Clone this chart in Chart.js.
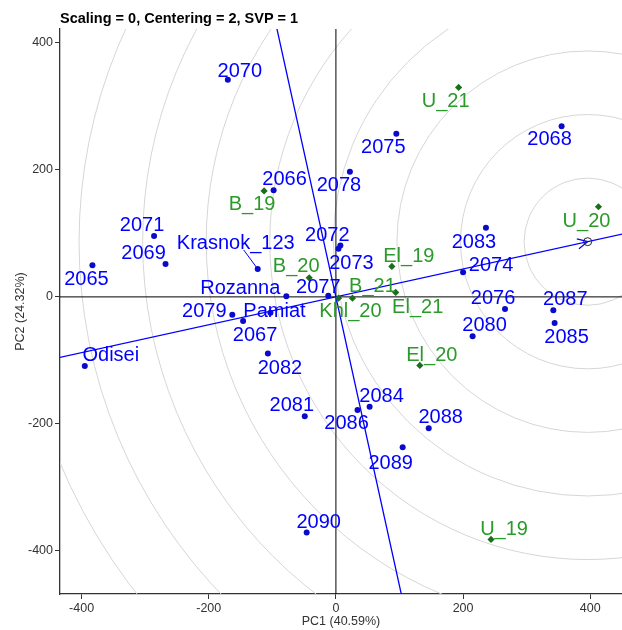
<!DOCTYPE html>
<html>
<head>
<meta charset="utf-8">
<script src="https://cdn.jsdelivr.net/npm/chart.js@4/dist/chart.umd.min.js"></script>
<style>
  html, body { margin: 0; padding: 0; background: #ffffff; }
  #wrap { width: 622px; height: 630px; position: relative; }
</style>
</head>
<body>
<div id="wrap"><canvas id="biplot"></canvas></div>
<script>
// ---- GGE biplot data (PC1 / PC2 scores) ----
const titleText = 'Scaling = 0, Centering = 2, SVP = 1';
const xTitle = 'PC1 (40.59%)';
const yTitle = 'PC2 (24.32%)';

const genotypeNames = ['2065', '2066', '2067', '2068', '2069', '2070', '2071', '2072', '2073', '2074',
  '2075', '2076', '2077', '2078', '2079', '2080', '2081', '2082', '2083', '2084',
  '2085', '2086', '2087', '2088', '2089', '2090', 'Krasnok_123', 'Odisei', 'Pamiat', 'Rozanna'];
const genotypePC1 = [-383, -98, -146, 355, -268, -170, -286, 7, 4, 200,
  95, 266, -12, 22, -163, 215, -49, -107, 236, 53,
  344, 34, 342, 146, 105, -46, -123, -395, -103, -78];
const genotypePC2 = [50, 168, -38, 269, 52, 342, 96, 81, 76, 39,
  257, -19, 2, 197, -28, -62, -188, -89, 109, -173,
  -41, -178, -21, -207, -237, -371, 44, -109, -25, 1];

const envNames = ['B_19', 'B_20', 'B_21', 'El_19', 'El_20', 'El_21', 'Khl_20', 'U_19', 'U_20', 'U_21'];
const envPC1 = [-113, -42, 26, 88, 132, 94, 4, 244, 413, 193];
const envPC2 = [167, 30, -2, 48, -108, 7, -2, -382, 142, 330];

// average-environment coordinate (tip of the AEA arrow) and ranking rings
const averageEnv = [396, 87];
const ringRadii = [100, 200, 300, 400, 500, 600, 700, 800, 900];

const xTicks = [-400, -200, 0, 200, 400];
const yTicks = [-400, -200, 0, 200, 400];
const xRange = [-434, 450];
const yRange = [-468, 422];

// label placement relative to each marker, in pixels [dx, dy] of the text centre
const labelOffset = {
  '2065': [-6, 13], '2066': [11, -12], '2067': [12, 13], '2068': [-12, 12], '2069': [-22, -12],
  '2070': [12, -10], '2071': [-12, -12], '2072': [-13, -12], '2073': [13, 13], '2074': [28, -8],
  '2075': [-13, 12], '2076': [-12, -12], '2077': [-10, -10], '2078': [-11, 12], '2079': [-28, -5],
  '2080': [12, -12], '2081': [-13, -12], '2082': [12, 13], '2083': [-12, 13], '2084': [12, -12],
  '2085': [12, 13], '2086': [-11, 12], '2087': [12, -12], '2088': [12, -12], '2089': [-12, 14],
  '2090': [12, -12], 'Krasnok_123': [-22, -27], 'Odisei': [26, -12], 'Pamiat': [4, -3], 'Rozanna': [-46, -9],
  'B_19': [-12, 12], 'B_20': [-13, -13], 'B_21': [20, -13], 'El_19': [17, -12], 'El_20': [12, -12],
  'El_21': [22, 13], 'Khl_20': [12, 12], 'U_19': [13, -12], 'U_20': [-12, 13], 'U_21': [-13, 12]
};
const leaderLines = { 'Krasnok_123': [-14, -19] };

const genoColor = '#0a0acc';
const genoLabel = '#0000ff';
const envColor = '#1b6e1b';
const envLabel = '#2a9a2a';
const labelFont = '20px "Liberation Sans", Arial, sans-serif';

const layers = {
  id: 'biplotLayers',
  beforeDatasetsDraw(chart) {
    const { ctx, chartArea: a, scales: { x, y } } = chart;
    const px = v => x.getPixelForValue(v);
    const py = v => y.getPixelForValue(v);
    ctx.save();
    ctx.beginPath();
    ctx.rect(a.left, a.top, a.right - a.left, a.bottom - a.top);
    ctx.clip();

    // concentric rings around the average environment
    const cx = px(averageEnv[0]), cy = py(averageEnv[1]);
    const unit = Math.abs(px(1) - px(0));
    ctx.strokeStyle = '#d6d6d6';
    ctx.lineWidth = 1;
    ringRadii.forEach(r => {
      ctx.beginPath();
      ctx.arc(cx, cy, r * unit, 0, Math.PI * 2);
      ctx.stroke();
    });

    // zero reference lines
    ctx.strokeStyle = '#000000';
    ctx.lineWidth = 1;
    ctx.beginPath();
    ctx.moveTo(px(0), a.top); ctx.lineTo(px(0), a.bottom);
    ctx.moveTo(a.left, py(0)); ctx.lineTo(a.right, py(0));
    ctx.stroke();

    // AEA abscissa and ordinate through the origin
    const [ax, ay] = averageEnv;
    const n = Math.hypot(ax, ay);
    const dx = ax / n, dy = ay / n, L = 5000;
    ctx.strokeStyle = '#0000ff';
    ctx.lineWidth = 1.3;
    ctx.beginPath();
    ctx.moveTo(px(-dx * L), py(-dy * L)); ctx.lineTo(px(dx * L), py(dy * L));
    ctx.moveTo(px(dy * L), py(-dx * L)); ctx.lineTo(px(-dy * L), py(dx * L));
    ctx.stroke();

    // arrow head at the average environment
    const ux = px(ax) - px(0), uy = py(ay) - py(0);
    const un = Math.hypot(ux, uy);
    const ex = ux / un, ey = uy / un;
    ctx.beginPath();
    ctx.moveTo(cx - ex * 10 + ey * 5, cy - ey * 10 - ex * 5);
    ctx.lineTo(cx, cy);
    ctx.lineTo(cx - ex * 10 - ey * 5, cy - ey * 10 + ex * 5);
    ctx.stroke();

    ctx.strokeStyle = '#222222';
    ctx.lineWidth = 1;
    ctx.beginPath();
    ctx.arc(cx, cy, 4, 0, Math.PI * 2);
    ctx.stroke();
    ctx.restore();
  },
  afterDatasetsDraw(chart) {
    const { ctx, scales: { x, y } } = chart;
    ctx.save();
    ctx.font = labelFont;
    ctx.textAlign = 'center';
    ctx.textBaseline = 'alphabetic';
    const capHalf = 0.716 * 20 / 2;
    const drawSet = (names, xs, ys, color) => {
      names.forEach((name, i) => {
        const mx = x.getPixelForValue(xs[i]);
        const my = y.getPixelForValue(ys[i]);
        const [ox, oy] = labelOffset[name] || [0, -12];
        if (leaderLines[name]) {
          const [lx, ly] = leaderLines[name];
          ctx.strokeStyle = color;
          ctx.lineWidth = 1;
          ctx.beginPath();
          ctx.moveTo(mx, my);
          ctx.lineTo(mx + lx, my + ly);
          ctx.stroke();
        }
        ctx.fillStyle = color;
        ctx.fillText(name, mx + ox, my + oy + capHalf);
      });
    };
    drawSet(genotypeNames, genotypePC1, genotypePC2, genoLabel);
    drawSet(envNames, envPC1, envPC2, envLabel);
    ctx.restore();
  },
  afterDraw(chart) {
    const { ctx, chartArea: a } = chart;
    ctx.save();
    ctx.font = 'bold 14.5px "Liberation Sans", Arial, sans-serif';
    ctx.fillStyle = '#000000';
    ctx.textAlign = 'left';
    ctx.textBaseline = 'alphabetic';
    ctx.fillText(titleText, a.left, 22.5);
    ctx.restore();
  }
};

const tickFont = { family: '"Liberation Sans", Arial, sans-serif', size: 12.5 };

new Chart(document.getElementById('biplot'), {
  type: 'scatter',
  data: {
    datasets: [
      {
        label: 'Genotypes',
        data: genotypePC1.map((v, i) => ({ x: v, y: genotypePC2[i] })),
        pointStyle: 'circle',
        pointRadius: 3,
        backgroundColor: genoColor,
        borderColor: genoColor,
        borderWidth: 0
      },
      {
        label: 'Environments',
        data: envPC1.map((v, i) => ({ x: v, y: envPC2[i] })),
        pointStyle: 'rectRot',
        pointRadius: 3.6,
        backgroundColor: envColor,
        borderColor: envColor,
        borderWidth: 0
      }
    ]
  },
  options: {
    responsive: true,
    maintainAspectRatio: false,
    devicePixelRatio: 1,
    animation: false,
    layout: { autoPadding: false, padding: { top: 29, right: 0, bottom: 0, left: 0 } },
    plugins: {
      legend: { display: false },
      tooltip: { enabled: false },
      title: { display: false }
    },
    scales: {
      x: {
        type: 'linear',
        min: xRange[0],
        max: xRange[1],
        afterBuildTicks: s => { s.ticks = xTicks.map(v => ({ value: v })); },
        afterFit: s => { s.height = 36; },
        grid: { drawOnChartArea: false, drawTicks: true, tickLength: 5, color: '#333333' },
        border: { display: true, color: '#333333', width: 1.3 },
        ticks: { font: tickFont, color: '#333333', padding: 2, maxRotation: 0 },
        title: { display: true, text: xTitle, font: tickFont, color: '#333333', padding: { top: 0, bottom: 1 } }
      },
      y: {
        type: 'linear',
        min: yRange[0],
        max: yRange[1],
        afterBuildTicks: s => { s.ticks = yTicks.map(v => ({ value: v })); },
        afterFit: s => { s.width = 60; },
        grid: { drawOnChartArea: false, drawTicks: true, tickLength: 5, color: '#333333' },
        border: { display: true, color: '#333333', width: 1.3 },
        ticks: { font: tickFont, color: '#333333', padding: 2 },
        title: { display: true, text: yTitle, font: tickFont, color: '#333333', padding: { top: 13, bottom: 0 } }
      }
    }
  },
  plugins: [layers]
});
</script>
</body>
</html>
